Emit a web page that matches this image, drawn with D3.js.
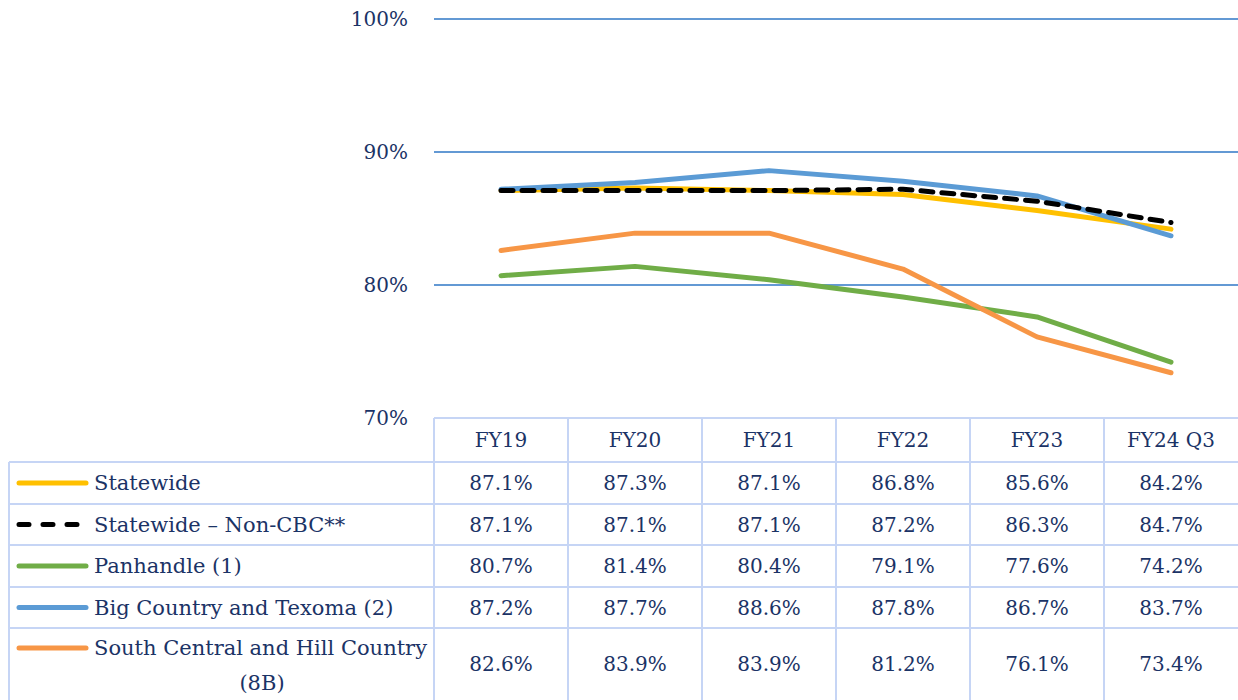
<!DOCTYPE html>
<html>
<head>
<meta charset="utf-8">
<script src="https://cdn.jsdelivr.net/npm/d3@7"></script>
<style>
  html, body { margin: 0; padding: 0; background: #fff; }
  svg { display: block; }
  text { font-family: "Palatino Linotype", "Book Antiqua", Palatino, "DejaVu Serif", serif; fill: #1b3366; }
</style>
</head>
<body>
<svg id="chart" width="1238" height="700"></svg>
<script>
// categories and series
var categories = ['FY19', 'FY20', 'FY21', 'FY22', 'FY23', 'FY24 Q3'];
var statewide = [87.1, 87.3, 87.1, 86.8, 85.6, 84.2];
var statewideNonCbc = [87.1, 87.1, 87.1, 87.2, 86.3, 84.7];
var panhandle = [80.7, 81.4, 80.4, 79.1, 77.6, 74.2];
var bigCountry = [87.2, 87.7, 88.6, 87.8, 86.7, 83.7];
var southCentral = [82.6, 83.9, 83.9, 81.2, 76.1, 73.4];
var yTicks = [70, 80, 90, 100];

var series = [
  { name: ['Statewide'], values: statewide, color: '#ffc000', dash: null },
  { name: ['Statewide \u2013 Non-CBC**'], values: statewideNonCbc, color: '#000000', dash: '12,9' },
  { name: ['Panhandle (1)'], values: panhandle, color: '#70ad47', dash: null },
  { name: ['Big Country and Texoma (2)'], values: bigCountry, color: '#5b9bd5', dash: null },
  { name: ['South Central and Hill Country', '(8B)'], values: southCentral, color: '#f79646', dash: null }
];

var svg = d3.select('#chart');
var plotLeft = 434, plotRight = 1238, plotTop = 19, plotBottom = 418;
var tableLeft = 9;
var rowEdges = [418, 462, 504, 545, 587, 628, 700];
var gridColor = '#c6d5f5';
var fontSize = 20;

var x = d3.scaleBand().domain(categories).range([plotLeft, plotRight]).padding(0);
var y = d3.scaleLinear().domain([70, 100]).range([plotBottom, plotTop]);

// gridlines
svg.append('g')
  .selectAll('line')
  .data(yTicks)
  .enter()
  .append('line')
  .attr('x1', plotLeft)
  .attr('x2', plotRight)
  .attr('y1', function (d) { return y(d); })
  .attr('y2', function (d) { return y(d); })
  .style('stroke', '#2f77c6')
  .style('stroke-width', 1.6);

// y labels
svg.append('g')
  .selectAll('text')
  .data(yTicks)
  .enter()
  .append('text')
  .attr('x', 408)
  .attr('y', function (d) { return y(d); })
  .attr('dy', '0.35em')
  .attr('text-anchor', 'end')
  .style('font-size', fontSize + 'px')
  .text(function (d) { return d + '%'; });

// lines
var line = d3.line()
  .x(function (d, i) { return x(categories[i]) + x.bandwidth() / 2; })
  .y(function (d) { return y(d); });

var order = [2, 4, 0, 3, 1];
svg.append('g')
  .selectAll('path')
  .data(order.map(function (i) { return series[i]; }))
  .enter()
  .append('path')
  .attr('d', function (d) { return line(d.values); })
  .style('fill', 'none')
  .style('stroke', function (d) { return d.color; })
  .style('stroke-width', 5)
  .style('stroke-linecap', 'round')
  .style('stroke-linejoin', 'round')
  .style('stroke-dasharray', function (d) { return d.dash; });

// data table
var table = svg.append('g');
table.append('rect')
  .attr('x', plotLeft).attr('y', rowEdges[0])
  .attr('width', plotRight - plotLeft).attr('height', rowEdges[1] - rowEdges[0])
  .style('fill', '#fff');

// horizontal borders
table.append('line')
  .attr('x1', plotLeft).attr('x2', plotRight)
  .attr('y1', rowEdges[0]).attr('y2', rowEdges[0])
  .style('stroke', gridColor).style('stroke-width', 2);
table.selectAll('line.row')
  .data(rowEdges.slice(1, 6))
  .enter()
  .append('line')
  .attr('class', 'row')
  .attr('x1', tableLeft).attr('x2', plotRight)
  .attr('y1', function (d) { return d; }).attr('y2', function (d) { return d; })
  .style('stroke', gridColor).style('stroke-width', 2);

// vertical borders
table.append('line')
  .attr('x1', tableLeft).attr('x2', tableLeft)
  .attr('y1', rowEdges[1]).attr('y2', 700)
  .style('stroke', gridColor).style('stroke-width', 2);
table.selectAll('line.col')
  .data(categories)
  .enter()
  .append('line')
  .attr('class', 'col')
  .attr('x1', function (d) { return x(d); }).attr('x2', function (d) { return x(d); })
  .attr('y1', rowEdges[0]).attr('y2', 700)
  .style('stroke', gridColor).style('stroke-width', 2);

// header
table.selectAll('text.head')
  .data(categories)
  .enter()
  .append('text')
  .attr('class', 'head')
  .attr('x', function (d) { return x(d) + x.bandwidth() / 2; })
  .attr('y', (rowEdges[0] + rowEdges[1]) / 2)
  .attr('dy', '0.35em')
  .attr('text-anchor', 'middle')
  .style('font-size', fontSize + 'px')
  .text(function (d) { return d; });

// rows
var rows = table.selectAll('g.srow')
  .data(series)
  .enter()
  .append('g')
  .attr('class', 'srow');

rows.each(function (s, r) {
  var g = d3.select(this);
  var top = rowEdges[r + 1], bottom = rowEdges[r + 2];
  var mid = (top + bottom) / 2;
  var labelY = s.name.length > 1 ? top + 20 : mid;

  g.append('line')
    .attr('x1', 19).attr('x2', 86)
    .attr('y1', labelY).attr('y2', labelY)
    .style('stroke', s.color)
    .style('stroke-width', 5)
    .style('stroke-linecap', 'round')
    .style('stroke-dasharray', s.dash ? '10,14' : null);

  s.name.forEach(function (n, k) {
    g.append('text')
      .attr('x', k === 0 ? 94 : 262)
      .attr('y', labelY + k * 35)
      .attr('dy', '0.35em')
      .attr('text-anchor', k === 0 ? 'start' : 'middle')
      .style('font-size', '21px')
      .text(n);
  });

  g.selectAll('text.val')
    .data(s.values)
    .enter()
    .append('text')
    .attr('class', 'val')
    .attr('x', function (d, i) { return x(categories[i]) + x.bandwidth() / 2; })
    .attr('y', mid)
    .attr('dy', '0.35em')
    .attr('text-anchor', 'middle')
    .style('font-size', fontSize + 'px')
    .text(function (d) { return d.toFixed(1) + '%'; });
});
</script>
</body>
</html>
